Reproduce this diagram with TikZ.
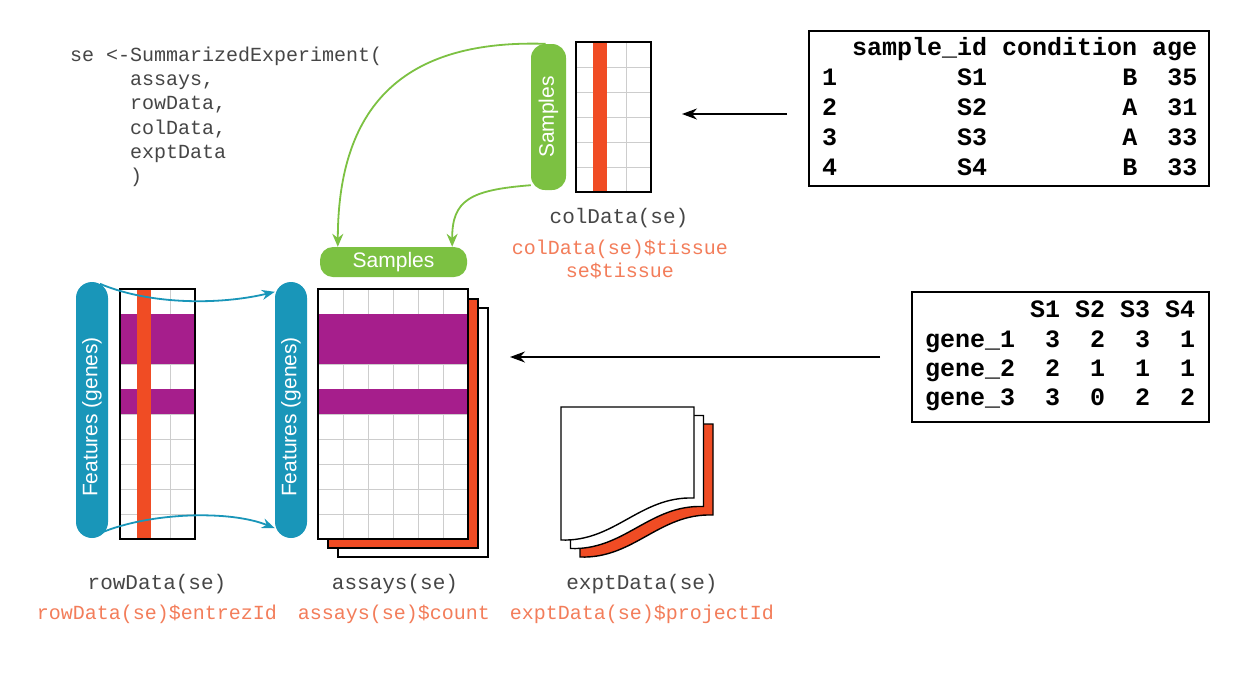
\documentclass[tikz,border=0pt]{standalone}
\usepackage{fontspec}
\setmainfont{Liberation Sans}
\newfontfamily\monofont{Liberation Mono}
\usetikzlibrary{arrows.meta,calc}
\definecolor{sgreen}{RGB}{124,193,66}
\definecolor{sblue}{RGB}{25,150,185}
\definecolor{spurple}{RGB}{166,30,140}
\definecolor{sred}{RGB}{240,76,36}
\definecolor{sorange}{RGB}{243,125,90}
\definecolor{codegray}{RGB}{70,70,70}
\definecolor{gridc}{RGB}{205,205,205}
\tikzset{
  codetxt/.style={anchor=base west, inner sep=0pt, text=codegray, font=\monofont\fontsize{20}{24}\selectfont},
  lbl/.style={anchor=base, inner sep=0pt, text=codegray, font=\monofont\fontsize{21}{25}\selectfont},
  acc/.style={anchor=base, inner sep=0pt, text=sorange, font=\monofont\fontsize{20}{24}\selectfont},
  tabtxt/.style={anchor=base west, inner sep=0pt, font=\monofont\bfseries\fontsize{25}{30}\selectfont},
  tabbox/.style={draw, line width=1.8pt, inner sep=0pt},
  pilltxt/.style={text=white, inner sep=0pt, font=\fontsize{21}{25}\selectfont},
  gridline/.style={draw=gridc, line width=1pt},
  frame/.style={draw=black, line width=1.6pt, inner sep=0pt},
  garrow/.style={draw=sgreen, line width=1.8pt, -{Stealth[length=13pt,width=11pt]}},
  barrow/.style={draw=sblue, line width=1.8pt, -{Stealth[length=13pt,width=10pt]}},
  karrow/.style={draw=black, line width=1.5pt, -{Stealth[length=15pt,width=11pt]}},
  sheet/.style={draw=black, line width=1.4pt},
}
\begin{document}
\begin{tikzpicture}[x=1pt,y=-1pt]
\useasboundingbox[fill=white] (0,0) rectangle (1250,681);

% ---------- code ----------
\node[codetxt] (c1) at (70,61) {se <-SummarizedExperiment(};
\node[codetxt] (c2) at (130,85.5) {assays,};
\node[codetxt] (c3) at (130,109.5) {rowData,};
\node[codetxt] (c4) at (130,134) {colData,};
\node[codetxt] (c5) at (130,158) {exptData};
\node[codetxt] (c6) at (130,182.5) {)};

% ---------- colData grid ----------
\fill[white] (576,42) rectangle (651,192);
\foreach \y in {67,92,117,142,167} \draw[gridline] (576,\y) -- (651,\y);
\draw[gridline] (626,42) -- (626,192);
\fill[sred] (593,42) rectangle (607,192);
\node[frame, minimum width=75pt, minimum height=150pt] (coldata) at (613.5,117) {};

% vertical Samples pill
\node[fill=sgreen, rounded corners=14pt, minimum width=35pt, minimum height=146pt, inner sep=0pt] (sampV) at (548.5,117) {};
\node[pilltxt, rotate=90] (sampVt) at (sampV.center) {Samples};

% horizontal Samples pill
\node[fill=sgreen, rounded corners=13pt, minimum width=147pt, minimum height=30pt, inner sep=0pt] (sampH) at (393.5,262) {};
\node[pilltxt] (sampHt) at (sampH.center) {Samples};

% green arrows
\draw[garrow] ($(sampV.north)+(-3,0)$) .. controls (420,40) and (338,90) .. ($(sampH.north west)+(18,0)$);
\draw[garrow] ($(sampV.south west)+(0,-5)$) .. controls (470,190) and (452,200) .. ($(sampH.north east)+(-15,0)$);

% colData labels
\node[lbl] (lcol) at (619,223) {colData(se)};
\node[acc] (acol1) at (620,254) {colData(se)\$tissue};
\node[acc] (acol2) at (620,277) {se\$tissue};

% ---------- rowData grid ----------
\fill[white] (120,289) rectangle (195,539);
\foreach \y in {314,339,...,514} \draw[gridline] (120,\y) -- (195,\y);
\draw[gridline] (170,289) -- (170,539);
\fill[spurple] (120,314) rectangle (195,364);
\fill[spurple] (120,389) rectangle (195,414);
\fill[sred] (137,289) rectangle (151,539);
\node[frame, minimum width=75pt, minimum height=250pt] (rowdata) at (157.5,414) {};

% feature pills
\node[fill=sblue, rounded corners=16pt, minimum width=32pt, minimum height=256pt, inner sep=0pt] (featL) at (92,410) {};
\node[pilltxt, rotate=90] (featLt) at ($(featL.center)+(0,7)$) {Features (genes)};
\node[fill=sblue, rounded corners=16pt, minimum width=32pt, minimum height=256pt, inner sep=0pt] (featR) at (291,410) {};
\node[pilltxt, rotate=90] (featRt) at ($(featR.center)+(0,7)$) {Features (genes)};

% blue arrows
\draw[barrow] ($(featL.north)+(8,2)$) .. controls (150,305) and (220,305) .. ($(featR.north west)+(0,10)$);
\draw[barrow] ($(featL.south)+(8,-5)$) .. controls (150,512) and (230,510) .. ($(featR.south west)+(0,-10)$);

% ---------- assays ----------
\draw[frame, fill=white] (338,308) rectangle (488,557);
\draw[frame, fill=sred] (328,299) rectangle (478,548);
\fill[white] (318,289) rectangle (468,539);
\foreach \x in {343,368,...,443} \draw[gridline] (\x,289) -- (\x,539);
\foreach \y in {314,339,...,514} \draw[gridline] (318,\y) -- (468,\y);
\fill[spurple] (318,314) rectangle (468,364);
\fill[spurple] (318,389) rectangle (468,414);
\node[frame, minimum width=150pt, minimum height=250pt] (assay) at (393,414) {};

% ---------- exptData sheets ----------
\foreach \dx/\dy/\c in {19/17/sred, 9.5/8.5/white, 0/0/white}
  \draw[sheet, fill=\c, shift={(\dx,\dy)}] (561,407) -- (694,407) -- (694,498)
     .. controls (640,496) and (615,542) .. (561,540) -- cycle;

% ---------- bottom labels ----------
\node[lbl] (lrow) at (157,589) {rowData(se)};
\node[lbl] (lass) at (395,589) {assays(se)};
\node[lbl] (lexp) at (642,589) {exptData(se)};
\node[acc] (arow) at (157,619) {rowData(se)\$entrezId};
\node[acc] (aass) at (394,619) {assays(se)\$count};
\node[acc] (aexp) at (642,619) {exptData(se)\$projectId};

% ---------- table 1 ----------
\node[tabbox, minimum width=400pt, minimum height=155pt] (tab1) at (1009,108.5) {};
\node[tabtxt] (t1h) at (822,55) {~~sample\_id~condition~age};
\node[tabtxt] (t1r1) at (822,85) {1~~~~~~~~S1~~~~~~~~~B~~35};
\node[tabtxt] (t1r2) at (822,115) {2~~~~~~~~S2~~~~~~~~~A~~31};
\node[tabtxt] (t1r3) at (822,145) {3~~~~~~~~S3~~~~~~~~~A~~33};
\node[tabtxt] (t1r4) at (822,175) {4~~~~~~~~S4~~~~~~~~~B~~33};

% ---------- table 2 ----------
\node[tabbox, minimum width=297pt, minimum height=130pt] (tab2) at (1060.5,357) {};
\node[tabtxt] (t2h) at (925,317) {~~~~~~~S1~S2~S3~S4};
\node[tabtxt] (t2r1) at (925,347) {gene\_1~~3~~2~~3~~1};
\node[tabtxt] (t2r2) at (925,376) {gene\_2~~2~~1~~1~~1};
\node[tabtxt] (t2r3) at (925,405) {gene\_3~~3~~0~~2~~2};

% ---------- black arrows ----------
\coordinate (k1s) at (787,114);
\coordinate (k1e) at (682,114);
\draw[karrow] (k1s) -- (k1e);
\coordinate (k2s) at (880,357);
\coordinate (k2e) at (510,357);
\draw[karrow] (k2s) -- (k2e);
\end{tikzpicture}
\end{document}
